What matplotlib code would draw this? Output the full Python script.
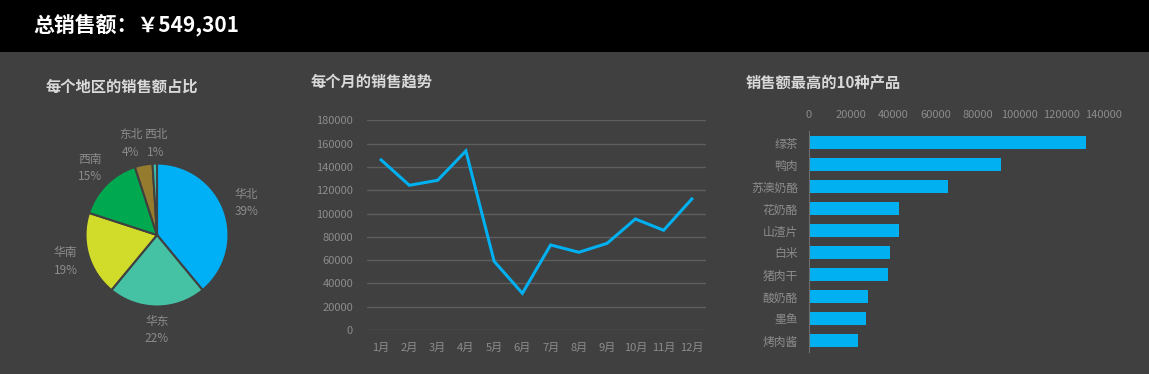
import matplotlib
matplotlib.use("Agg")
from matplotlib import pyplot as plt
from matplotlib.patches import Rectangle

plt.rcParams['font.family'] = ['Noto Sans CJK SC', 'DejaVu Sans']

# data
total_sales = 549301

regions = ['华北', '华东', '华南', '西南', '东北', '西北']
region_pct = [39, 22, 19, 15, 4, 1]
region_colors = ['#00B0F6', '#45C2A4', '#D1DC2A', '#00A850', '#957B2E', '#3CC0B0']

months = ['1月', '2月', '3月', '4月', '5月', '6月', '7月', '8月', '9月', '10月', '11月', '12月']
month_sales = [146000, 124200, 128500, 153700, 59000, 31500, 73000, 66700, 74400, 95300, 85600, 112500]

products = ['绿茶', '鸭肉', '苏澳奶酪', '花奶酪', '山渣片', '白米', '猪肉干', '酸奶酪', '墨鱼', '烤肉酱']
product_sales = [131500, 91100, 66000, 42700, 42700, 38400, 37500, 28000, 27100, 23300]

BG = '#404040'
TXT = '#8C8C8C'
TITLE = '#D9D9D9'
BLUE = '#00B0F0'

W, H = 1149, 374
fig = plt.figure(figsize=(W / 100, H / 100), dpi=100)
fig.patch.set_facecolor(BG)

def px(x, y):
    # pixel (from top-left) -> figure fraction
    return x / W, 1 - y / H

# header band
fig.patches.append(Rectangle((0, 1 - 52 / H), 1, 52 / H, transform=fig.transFigure,
                             facecolor='black', edgecolor='none', zorder=0))
fig.text(*px(33, 25), '总销售额：￥{:,}'.format(total_sales), color='white',
         fontsize=15, fontweight='bold', va='center', ha='left')

# titles
fig.text(*px(46, 87), '每个地区的销售额占比', color=TITLE, fontsize=11, fontweight='bold', va='center')
fig.text(*px(311, 82), '每个月的销售趋势', color=TITLE, fontsize=11, fontweight='bold', va='center')
fig.text(*px(746, 83), '销售额最高的10种产品', color=TITLE, fontsize=11, fontweight='bold', va='center')

# ---- pie
r = 71.5
cx, cy = 157, 235
ax1 = fig.add_axes([(cx - 1.5 * r) / W, (H - cy - 1.5 * r) / H, 3 * r / W, 3 * r / H])
ax1.set_facecolor(BG)
labels = ['%s\n%d%%' % (n, p) for n, p in zip(regions, region_pct)]
wedges, texts = ax1.pie(region_pct, colors=region_colors, startangle=90, counterclock=False,
                        labels=labels, labeldistance=1.33,
                        wedgeprops=dict(edgecolor=BG, linewidth=1.5),
                        textprops=dict(color=TXT, fontsize=8.5, linespacing=1.45))
for t in texts:
    t.set_ha('center')
    t.set_va('center')
# the two small slices sit side by side above the pie
texts[4].set_position((-0.37, 1.28))
texts[5].set_position((-0.02, 1.28))
ax1.set_xlim(-1.5, 1.5)
ax1.set_ylim(-1.5, 1.5)
ax1.set_aspect('equal')
ax1.axis('off')

# ---- line
ax2 = fig.add_axes([367 / W, (H - 330) / H, 339 / W, 209.7 / H])
ax2.set_facecolor(BG)
ax2.plot(range(len(months)), month_sales, color=BLUE, linewidth=2.2, solid_joinstyle='miter')
ax2.set_xlim(-0.5, len(months) - 0.5)
ax2.set_ylim(0, 180000)
ax2.set_yticks(range(0, 180001, 20000))
ax2.set_xticks(range(len(months)))
ax2.set_xticklabels(months)
ax2.grid(axis='y', color='#5E5E5E', linewidth=1)
ax2.set_axisbelow(True)
for s in ax2.spines.values():
    s.set_visible(False)
ax2.tick_params(axis='y', length=0, pad=10, labelcolor=TXT, labelsize=8)
ax2.tick_params(axis='x', length=0, pad=9, labelcolor=TXT, labelsize=8)

# ---- bars
ax3 = fig.add_axes([809 / W, (H - 351.5) / H, 295 / W, 220 / H])
ax3.set_facecolor(BG)
ax3.barh(range(len(products)), product_sales, height=0.59, color=BLUE)
ax3.set_ylim(len(products) - 0.5, -0.5)
ax3.set_xlim(0, 140000)
ax3.set_xticks(range(0, 140001, 20000))
ax3.set_yticks(range(len(products)))
ax3.set_yticklabels(products)
ax3.xaxis.tick_top()
for k in ['top', 'right', 'bottom']:
    ax3.spines[k].set_visible(False)
ax3.spines['left'].set_color('#6E6E6E')
ax3.tick_params(axis='x', length=0, pad=8, labelcolor=TXT, labelsize=8)
ax3.tick_params(axis='y', length=0, pad=8, labelcolor=TXT, labelsize=8.5)

fig.savefig('out.png', dpi=100, facecolor=BG)
